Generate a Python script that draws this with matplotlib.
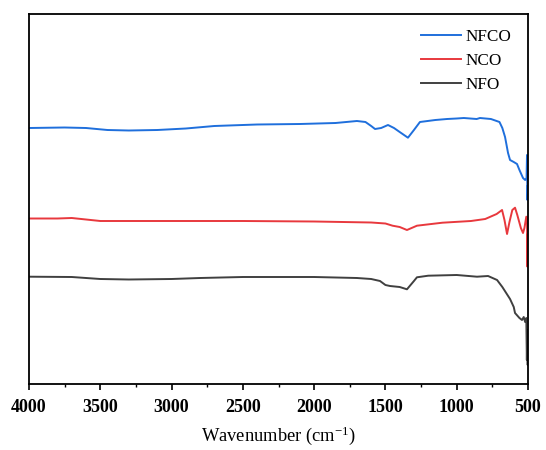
import matplotlib
matplotlib.use('Agg')
from matplotlib import pyplot as plt
from matplotlib.ticker import MultipleLocator

# FTIR spectra, offset transmittance (a.u.)
nfco_wn = [4000, 3750, 3600, 3450, 3300, 3100, 2900, 2700, 2400, 2100, 1850, 1700,
           1640, 1600, 1573, 1530, 1482, 1440, 1400, 1342, 1300, 1258, 1150, 1068,
           1000, 950, 860, 837, 760, 700, 680, 661, 640, 626, 600, 577, 560, 535,
           520, 510, 507, 504, 501, 500]
nfco_t = [256, 256.5, 256, 254, 253.5, 254, 255.5, 258, 259.5, 260, 261, 263,
          262, 258, 255, 256, 259, 256, 252, 246.3, 254, 262, 264, 265,
          265.5, 266, 265, 266, 265, 262, 256, 247, 231, 224, 222, 220, 214, 206,
          204, 206, 229, 184, 199, 190]

nco_wn = [4000, 3800, 3700, 3600, 3500, 3000, 2500, 2000, 1600, 1500, 1450, 1400,
          1349, 1300, 1279, 1100, 900, 800, 720, 682, 665, 647, 630, 610, 591,
          575, 550, 535, 525, 512, 507, 504, 502, 500]
nco_t = [165.5, 165.5, 166, 164.5, 163, 163, 163, 162.5, 161.5, 160.5, 158.3, 157,
         154, 157, 158.3, 161.3, 163, 165, 170, 174, 164, 150, 162, 174, 176.3,
         169, 156, 151, 156, 167.3, 167, 117.3, 150, 124]

nfo_wn = [4000, 3700, 3500, 3300, 3000, 2800, 2500, 2000, 1700, 1600, 1538, 1500,
          1468, 1400, 1349, 1300, 1279, 1200, 1000, 858, 780, 717, 680, 626, 600,
          591, 560, 542, 530, 520, 512, 508, 505, 502, 500]
nfo_t = [107.3, 107, 105, 104.5, 105, 106, 107, 107, 106, 105, 103, 99,
         98, 97, 94.7, 103, 106.7, 108.3, 109, 107.3, 108, 104, 97, 85, 77,
         71, 66, 64, 67, 62, 66, 24, 54, 19, 44]

plt.rcParams['font.family'] = ['Liberation Serif', 'DejaVu Serif']
plt.rcParams['mathtext.default'] = 'regular'

fig = plt.figure(figsize=(5.46, 4.5), dpi=100)
ax = fig.add_axes([29 / 546, 66 / 450, 499 / 546, 370 / 450])

ax.plot(nfco_wn, nfco_t, color='#1f6fdc', linewidth=1.4, label='NFCO')
ax.plot(nco_wn, nco_t, color='#e8383d', linewidth=1.4, label='NCO')
ax.plot(nfo_wn, nfo_t, color='#404040', linewidth=1.4, label='NFO')

ax.set_xlim(4000, 500)
ax.set_ylim(0, 370)
ax.set_yticks([])
ax.xaxis.set_major_locator(MultipleLocator(500))
ax.xaxis.set_minor_locator(MultipleLocator(250))
ax.tick_params(axis='x', which='major', direction='out', length=4, width=1.2, pad=7)
ax.tick_params(axis='x', which='minor', direction='out', length=2.5, width=1.0)
for lab in ax.get_xticklabels():
    lab.set_fontweight('bold')
    lab.set_fontsize(13)
for s in ax.spines.values():
    s.set_linewidth(1.3)

ax.set_xlabel('Wavenumber (cm$^{-1}$)', fontsize=13.3, labelpad=6)
ax.legend(loc='upper right', bbox_to_anchor=(0.998, 1.0), frameon=False,
          fontsize=12.3, handlelength=2.3, handletextpad=0.3, labelspacing=0.45)

fig.savefig('out.png', dpi=100)
